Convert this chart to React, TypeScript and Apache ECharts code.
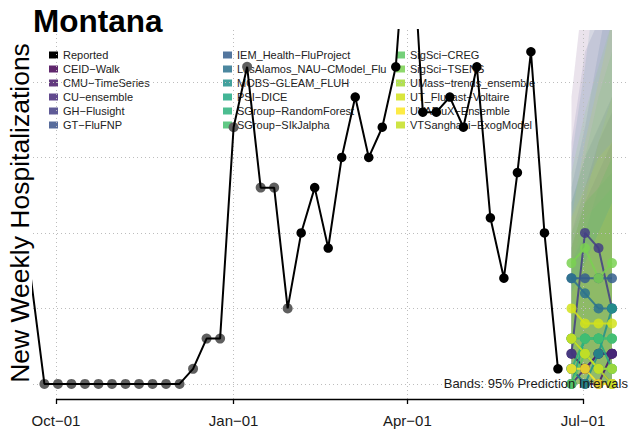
import React, { useEffect, useRef } from 'react';
import * as echarts from 'echarts';

// ---------- data ----------
const reportedStart = '2022-09-18';
const reportedValues = [
  7, 0, 0, 0, 0, 0, 0, 0, 0, 0, 0, 0,
  1, 3, 3, 17, 21, 13, 13, 5,
  10, 13, 9, 15, 19, 15, 17, 21,
  33, 18, 18, 19, 17, 21, 11, 7,
  14, 22, 10, 1,
];
const greyCount = 20; // earlier reported weeks drawn in grey
const forecastDates = ['2023-06-25', '2023-07-02', '2023-07-09', '2023-07-16'];
const tickDates = ['2022-10-01', '2023-01-01', '2023-04-01', '2023-07-01'];
const tickLabels = ['Oct−01', 'Jan−01', 'Apr−01', 'Jul−01'];
const gridYValues = [0, 5, 10, 15, 20];

const modelNames = [
  'CEID−Walk', 'CMU−TimeSeries', 'CU−ensemble', 'GH−Flusight', 'GT−FluFNP',
  'IEM_Health−FluProject', 'LosAlamos_NAU−CModel_Flu', 'MOBS−GLEAM_FLUH', 'PSI−DICE',
  'SGroup−RandomForest', 'SGroup−SIkJalpha', 'SigSci−CREG', 'SigSci−TSENS',
  'UMass−trends_ensemble', 'UT_Flucast−Voltaire', 'UVAFluX−Ensemble', 'VTSanghani−ExogModel',
];
const modelColors = [
  '#440154', '#481769', '#472A7A', '#433E85', '#3B528B',
  '#355E8D', '#2C728E', '#21908C', '#22A884',
  '#2DB27D', '#44BF70', '#5DC863', '#7AD151',
  '#A5DB36', '#D2E21B', '#FDE725', '#C5DF23',
];
const medians = [
  [2, 1, 2, 2], [1, 0, 0, 2], [0, 1, 2, 2], [2, 10, 9, 5], [3, 2, 1, 0],
  [7, 7, 7, 7], [7, 6, 5, 5], [1, 0, 2, 5], [0, 3, 3, 1],
  [1, 3, 3, 3], [3, 3, 3, 3], [0, 2, 1, 1], [8, 9, 7, 8],
  [3, 2, 1, 1], [5, 4, 4, 4], [1, 1, 0, 0], [3, 2, 1, 0],
];
const lower95 = [
  [0, 0, 0, 0], [0, 0, 0, 0], [0, 0, 0, 0], [0, 2, 1, 0], [0, 0, 0, 0],
  [1, 1, 0, 0], [1, 0, 0, 0], [0, 0, 0, 0], [0, 0, 0, 0],
  [0, 0, 0, 0], [0, 0, 0, 0], [0, 0, 0, 0], [2, 2, 1, 1],
  [0, 0, 0, 0], [0, 0, 0, 0], [0, 0, 0, 0], [0, 0, 0, 0],
];
const upper95 = [
  [19, 27, 34, 40], [9, 12, 14, 16], [10, 13, 16, 18], [16, 22, 24, 26], [12, 15, 17, 19],
  [13, 17, 22, 27], [15, 21, 28, 35], [8, 10, 13, 15], [9, 12, 13, 14],
  [8, 11, 12, 13], [10, 12, 13, 15], [12, 15, 19, 22], [14, 18, 21, 24],
  [9, 12, 16, 19], [11, 13, 15, 16], [6, 8, 10, 12], [11, 16, 20, 24],
];

const legendCol1 = ['Reported', ...modelNames.slice(0, 5)];
const legendCol2 = modelNames.slice(5, 11);
const legendCol3 = modelNames.slice(11, 17);

// ---------- helpers ----------
const ORIGIN = Date.UTC(2022, 9, 1);
const dayOf = (s: string) => {
  const [y, m, d] = s.split('-').map(Number);
  return (Date.UTC(y, m - 1, d) - ORIGIN) / 86400000;
};
const FONT = '"Liberation Sans", Arial, Helvetica, sans-serif';

export default function App() {
  const ref = useRef<HTMLDivElement>(null);

  useEffect(() => {
    if (!ref.current) return;
    const chart = echarts.init(ref.current, undefined, { renderer: 'svg' });

    const startDay = dayOf(reportedStart);
    const reportedDays = reportedValues.map((_, i) => startDay + 7 * i);
    const reportedPts = reportedValues.map((v, i) => [reportedDays[i], v]);
    const fDays = forecastDates.map(dayOf);
    const tickDays = tickDates.map(dayOf);
    const labelMap: Record<string, string> = {};
    tickDays.forEach((d, i) => (labelMap[String(d)] = tickLabels[i]));

    const gridStyle = { color: '#bdbdbd', width: 1, type: [1, 3] as any };
    const axisLineStyle = { color: '#000', width: 1.3, type: 'solid' as any };

    const series: any[] = [];

    modelNames.forEach((name, i) => {
      series.push({
        type: 'custom',
        name: `band-${i}`,
        data: fDays.map((d, j) => [d, lower95[i][j], upper95[i][j]]),
        encode: { x: 0, y: [1, 2] },
        clip: true,
        silent: true,
        z: 1,
        renderItem: (params: any, api: any) => {
          if (params.dataIndex !== 0) return { type: 'group', children: [] };
          const top = fDays.map((d, j) => api.coord([d, upper95[i][j]]));
          const bottom = fDays.map((d, j) => api.coord([d, lower95[i][j]])).reverse();
          return {
            type: 'polygon',
            shape: { points: [...top, ...bottom] },
            style: { fill: modelColors[i], opacity: 0.11 },
          };
        },
      });
    });

    modelNames.forEach((name, i) => {
      series.push({
        type: 'line',
        name,
        data: fDays.map((d, j) => [d, medians[i][j]]),
        symbol: 'circle',
        symbolSize: 10,
        showSymbol: true,
        lineStyle: { color: modelColors[i], width: 2, opacity: 0.85 },
        itemStyle: { color: modelColors[i], opacity: 0.85 },
        z: 6,
      });
    });

    series.push({
      type: 'scatter',
      name: 'Reported-early',
      data: reportedPts.slice(0, greyCount),
      symbolSize: 10,
      itemStyle: { color: '#5f5f5f', opacity: 1 },
      z: 7,
    });
    series.push({
      type: 'line',
      name: 'Reported-line',
      data: reportedPts,
      symbol: 'none',
      showSymbol: false,
      lineStyle: { color: '#000', width: 2 },
      z: 8,
      markLine: {
        silent: true,
        z: 2,
        symbol: ['none', 'none'],
        label: { show: false },
        lineStyle: gridStyle,
        data: [
          ...tickDays.map((d) => ({ xAxis: d })),
          ...gridYValues.map((v) => ({ yAxis: v })),
          [
            { coord: [tickDays[0], -1], lineStyle: axisLineStyle },
            { coord: [tickDays[tickDays.length - 1], -1], lineStyle: axisLineStyle },
          ],
        ],
      },
    });
    series.push({
      type: 'scatter',
      name: 'Reported',
      data: reportedPts.slice(greyCount),
      symbolSize: 9.5,
      itemStyle: { color: '#000', opacity: 1 },
      z: 9,
    });

    const legendBase = {
      orient: 'vertical',
      top: 48,
      padding: 0,
      itemGap: 0,
      itemWidth: 9,
      itemHeight: 7,
      icon: 'rect',
      selectedMode: false,
      z: 1,
      textStyle: { fontSize: 11, lineHeight: 14, color: '#222', fontFamily: FONT },
    };

    chart.setOption({
      animation: false,
      backgroundColor: '#fff',
      textStyle: { fontFamily: FONT },
      grid: { left: 33, right: 0, top: 30, bottom: 34, outerBoundsMode: 'none' },
      xAxis: {
        type: 'value',
        min: -11.91,
        max: 296.8,
        axisLine: { show: false, onZero: false },
        splitLine: { show: false },
        axisTick: {
          show: true,
          customValues: tickDays,
          length: 5,
          lineStyle: { color: '#000', width: 1.3 },
        },
        axisLabel: {
          customValues: tickDays,
          formatter: (v: number) => labelMap[String(v)] ?? '',
          fontSize: 15,
          color: '#1a1a1a',
          margin: 14,
          fontFamily: FONT,
        },
      },
      yAxis: { type: 'value', min: -1, max: 23.44, show: false },
      legend: [
        { ...legendBase, left: 49, data: legendCol1 },
        { ...legendBase, left: 223, data: legendCol2 },
        { ...legendBase, left: 396, data: legendCol3 },
      ],
      graphic: [
        {
          type: 'text',
          x: 33,
          y: 21,
          z: 100,
          style: {
            text: 'Montana',
            fontSize: 31.5,
            fontWeight: 'bold',
            fontFamily: FONT,
            fill: '#000',
            align: 'left',
            verticalAlign: 'middle',
          },
        },
        {
          type: 'text',
          x: 20.3,
          y: 213,
          rotation: Math.PI / 2,
          z: 100,
          style: {
            text: 'New Weekly Hospitalizations',
            fontSize: 26.5,
            fontFamily: FONT,
            fill: '#000',
            align: 'center',
            verticalAlign: 'middle',
          },
        },
        {
          type: 'text',
          x: 628,
          y: 383,
          z: 100,
          style: {
            text: 'Bands: 95% Prediction Intervals',
            fontSize: 13,
            fontFamily: FONT,
            fill: '#1a1a1a',
            align: 'right',
            verticalAlign: 'middle',
          },
        },
      ],
      series,
    });

    return () => chart.dispose();
  }, []);

  return (
    <div
      ref={ref}
      style={{ position: 'fixed', left: 0, top: 0, width: 629, height: 433, background: '#fff' }}
    />
  );
}
